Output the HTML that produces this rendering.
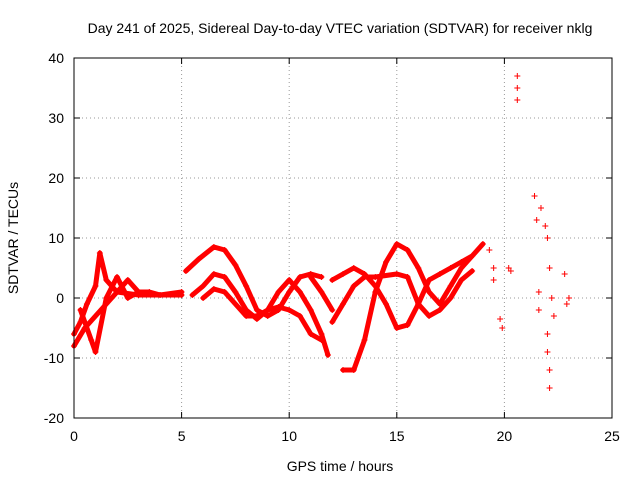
<!DOCTYPE html>
<html><head><meta charset="utf-8"><style>
body{margin:0;background:#fff}
svg{display:block;font-family:"Liberation Sans",sans-serif;font-size:14px}
</style></head><body>
<svg id="chart" width="640" height="480" xmlns="http://www.w3.org/2000/svg">
<rect width="640" height="480" fill="#fff"/>
<text x="340" y="33" text-anchor="middle">Day 241 of 2025, Sidereal Day-to-day VTEC variation (SDTVAR) for receiver nklg</text>
<text x="340" y="471" text-anchor="middle">GPS time / hours</text>
<text transform="translate(18,238) rotate(-90)" text-anchor="middle">SDTVAR / TECUs</text>
<g id="grid"></g><g id="marks"></g>
<rect x="74" y="58" width="538" height="360" fill="none" stroke="#000"/>
</svg>
<script>
const xTicks=[0,5,10,15,20,25];
const yTicks=[-20,-10,0,10,20,30,40];
const tracks=[
[[5.2,4.5],[5.8,6.5],[6.5,8.5],[7,8],[7.5,5.5],[8,2],[8.5,-2],[9,-3],[9.5,-2],[10,1],[10.5,3.5],[11,4],[11.5,3.5]],
[[5.5,0.5],[6,2],[6.5,4],[7,3.5],[7.5,1],[8,-2],[8.5,-3.5],[9,-2],[9.5,1],[10,3],[10.5,1],[11,-2],[11.5,-6],[11.8,-9.5]],
[[6,0],[6.5,1.5],[7,1],[7.5,-1],[8,-3],[8.5,-3],[9,-2],[9.5,-1.5],[10,-2],[10.5,-3],[11,-6],[11.5,-7]],
[[0,-6],[0.3,-4],[0.6,-1],[1,2],[1.2,7.5],[1.5,3],[2,1],[3,0.5],[4,0.5],[5,1]],
[[0,-8],[0.5,-5],[1,-3],[1.5,-1],[2,1],[2.5,3],[3,1],[3.5,1],[4,0.5],[5,0.5]],
[[0.3,-2],[0.8,-7],[1,-9],[1.5,0],[2,3.5],[2.5,0],[3,1]],
[[12.5,-12],[13,-12],[13.5,-7],[14,1],[14.5,6],[15,9],[15.5,8],[16,5],[16.5,1],[17,-1],[17.5,2],[18,5],[18.5,7],[19,9]],
[[12,3],[12.5,4],[13,5],[13.5,4],[14,2],[14.5,-1],[15,-5],[15.5,-4.5],[16,-1],[16.5,3],[17,4],[17.5,5],[18,6],[18.5,7]],
[[12,-4],[12.5,-1],[13,2],[13.5,3.5],[14,3.5],[15,4],[15.5,3.5],[16,-1],[16.5,-3],[17,-2],[17.5,0],[18,3],[18.5,4.5]],
[[11,3.5],[11.5,1],[12,-2]]
];
const scatterT=[19.3,19.5,19.5,19.8,19.9,20.2,20.3,20.6,20.6,20.6,21.4,21.5,21.7,21.9,22,22.1,22.2,22.3,21.6,21.6,22,22,22.1,22.1,22.8,22.9,23];
const scatterV=[8,5,3,-3.5,-5,5,4.5,37,35,33,17,13,15,12,10,5,0,-3,1,-2,-6,-9,-12,-15,4,-1,0];
const X=t=>74+t*538/25, Y=v=>298-v*6;
const NS="http://www.w3.org/2000/svg";
const grid=document.getElementById('grid'), marks=document.getElementById('marks');
function mk(tag,attrs,parent){const e=document.createElementNS(NS,tag);for(const k in attrs)e.setAttribute(k,attrs[k]);parent.appendChild(e);return e;}
xTicks.forEach(t=>{
 if(t>0&&t<25){const l=mk('line',{x1:X(t),x2:X(t),y1:58,y2:418,stroke:'#999','stroke-dasharray':'1,3'},grid);
 
 }
 const tk=mk('path',{d:`M${X(t)},418v-6M${X(t)},58v6`,stroke:'#000'},grid);
 
 
 const tx=mk('text',{x:X(t),y:441,'text-anchor':'middle'},grid);tx.textContent=t;
 
 
});
yTicks.forEach(v=>{
 if(v>-20&&v<40){const l=mk('line',{x1:74,x2:612,y1:Y(v),y2:Y(v),stroke:'#999','stroke-dasharray':'1,3'},grid);
 
 }
 const tk=mk('path',{d:`M74,${Y(v)}h6M612,${Y(v)}h-6`,stroke:'#000'},grid);
 
 
 const tx=mk('text',{x:64,y:Y(v)+5,'text-anchor':'end'},grid);tx.textContent=v;
 
 
});
function plus(t,v){const p=mk('path',{d:`M${X(t)-3},${Y(v)}h6M${X(t)},${Y(v)-3}v6`,stroke:'#f00','stroke-width':1},marks);
 
 }
tracks.forEach(tr=>{
 const pl=mk('polyline',{points:tr.map(p=>X(p[0])+','+Y(p[1])).join(' '),fill:'none',stroke:'#f00','stroke-width':5,'stroke-linejoin':'round','stroke-linecap':'round'},marks);
 
 
 tr.forEach(p=>plus(p[0],p[1]));
});
scatterT.forEach((t,i)=>plus(t,scatterV[i]));
</script>
</body></html>
